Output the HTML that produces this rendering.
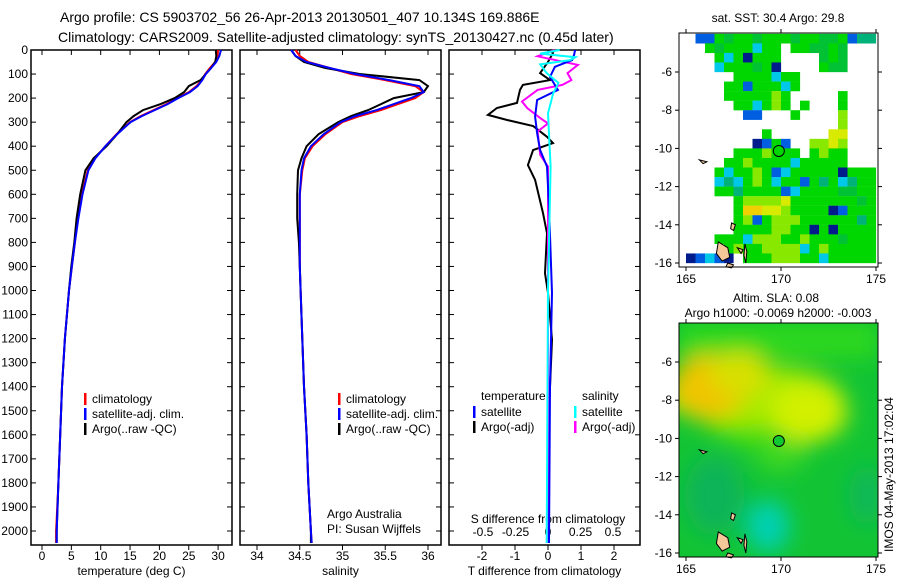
<!DOCTYPE html>
<html><head><meta charset="utf-8"><style>
body{margin:0;background:#fff;}
svg text{font-family:"Liberation Sans",sans-serif;fill:#000;}
</style></head><body>
<svg id="fig" width="900" height="580" viewBox="0 0 900 580" xmlns="http://www.w3.org/2000/svg">
<text x="60" y="22" font-size="14">Argo profile: CS 5903702_56 26-Apr-2013 20130501_407 10.134S 169.886E</text>
<text x="58" y="42" font-size="14">Climatology: CARS2009. Satellite-adjusted climatology: synTS_20130427.nc (0.45d later)</text>
<g id="p1"></g>
<g id="p2"></g>
<g id="p3"></g>
<g id="m1"></g>
<g id="m2"></g>
<text font-size="12" transform="translate(893,552) rotate(-90)">IMOS 04-May-2013 17:02:04</text>
</svg>
<script>
// ---- data ----
const depths=[0,25,50,75,100,125,150,175,200,225,250,275,300,350,400,450,500,600,700,800,900,1000,1200,1400,1600,1800,2000,2050];
const tempClim=[30.0,29.9,29.5,28.6,27.8,27.2,26.3,25.0,23.0,21.2,19.0,16.8,15.0,12.7,10.8,9.0,7.8,6.8,6.1,5.6,5.1,4.6,3.9,3.4,3.1,2.8,2.4,2.4];
const tempSat=[30.5,30.2,29.7,28.8,27.9,27.3,26.5,25.2,23.2,21.4,19.2,17.0,15.1,12.8,10.8,9.1,7.9,6.9,6.2,5.6,5.1,4.6,3.9,3.4,3.1,2.8,2.5,2.5];
const tempArgo=[29.6,29.7,29.5,28.8,27.9,27.0,25.0,24.2,22.6,20.2,17.2,15.6,14.4,12.8,11.0,8.8,7.4,6.5,5.9,5.5,5.0,4.6,3.9,3.4,3.1,2.8,2.5,2.5];
const salClim=[34.45,34.5,34.6,34.85,35.1,35.5,35.85,35.95,35.85,35.65,35.45,35.2,35.0,34.8,34.65,34.56,34.53,34.5,34.5,34.5,34.5,34.51,34.53,34.55,34.58,34.6,34.63,34.64];
const salSat=[34.4,34.45,34.58,34.85,35.15,35.55,35.9,35.95,35.8,35.6,35.4,35.15,34.98,34.78,34.63,34.55,34.52,34.5,34.5,34.5,34.5,34.51,34.53,34.55,34.58,34.6,34.63,34.64];
const salArgo=[34.4,34.45,34.55,34.8,35.2,35.9,36.0,35.95,35.6,35.45,35.3,35.1,34.95,34.72,34.58,34.52,34.48,34.47,34.47,34.49,34.5,34.51,34.53,34.55,34.58,34.6,34.63,34.63];
const dtArgoDepth=[0,12,50,96,125,145,166,220,241,270,291,316,361,387,416,478,540,678,762,928,1010,1205,1500,2050];
const dtArgo=[0.06,0.15,0,-0.24,0.06,-0.76,-0.85,-0.94,-1.55,-1.82,-1.24,-0.45,-0.03,0.15,-0.45,-0.61,-0.39,-0.15,-0.03,-0.09,0,0.12,0.03,0];
const dtSatDepth=[0,20,42,70,112,166,208,277,345,416,485,652,1010,1400,2050];
const dtSat=[0.82,0.79,0.73,0.21,0.06,0.30,-0.33,-0.39,-0.33,-0.24,-0.03,0.03,0.12,0.06,0.03];
const dsSatDepth=[0,15,30,42,60,96,137,180,263,485,1000,2050];
const dsSat=[0.09,-0.06,0.21,0.17,-0.06,-0.01,0.08,0.04,0,0.02,0,-0.01];
const dsArgoDepth=[0,26,62,96,125,145,166,214,241,283,305,339,436,485,690,2050];
const dsArgo=[0.05,-0.08,0.23,0.15,0.18,0.11,-0.08,-0.20,-0.16,-0.06,0,-0.08,-0.06,0,0,0];
const depthTicks=[0,100,200,300,400,500,600,700,800,900,1000,1100,1200,1300,1400,1500,1600,1700,1800,1900,2000];
const tempTicks=[0,5,10,15,20,25,30];
const salTicks=[34,34.5,35,35.5,36];
const dtTicks=[-2,-1,0,1,2];
const dsTickLabels=["-0.5","-0.25","0","0.25","0.5"];
const dsTicks=[-0.5,-0.25,0,0.25,0.5];
const sstGrid=[
".bbgGggGgggGggGGgbtt",
"..gGgggcgg.ggGGgG...",
"...gcgnggg....GgG...",
"...cgggGgn....gGG...",
".....ggggcgg........",
"....ggbgggcg........",
"....gggggyg.....g...",
".....ggcgyg.g...g...",
"......bb...g....y...",
"................y...",
"........g......YY...",
".......nbgb..yyYy...",
".....gggyggg.gygg...",
"....ggyggggcggggg...",
"...gcggygbcgggggnggg",
"...ctcgygcggbgtgctgg",
"...ggtggggbcggggGGgg",
".....gyyyyYgggggggGg",
".....gooYYyggggnbggg",
".....gybgyyyggggggtg",
".....ggggyyggngngggg",
"...gggcyyyggygggGggg",
"....gyggyyyycgyggggg",
"nbcbn.gggyyyggcggggg"];
const mapLonTicks=[165,170,175];
const mapLatTicks=[-6,-8,-10,-12,-14,-16];
const argoLon=169.886, argoLat=-10.134;

// ---- helpers ----
const NS="http://www.w3.org/2000/svg";
function mk(parent,tag,attrs){const e=document.createElementNS(NS,tag);for(const k in attrs)e.setAttribute(k,attrs[k]);parent.appendChild(e);return e;}
const yD=d=>50+d*0.2405;
const BOT=545;

function panel(g,x0,x1,xs,ticks,labels,xlabel,leftLabels){
  const fr=mk(g,'rect',{x:x0,y:50,width:x1-x0,height:BOT-50,fill:'none',stroke:'#000','stroke-width':1.5});
  
  depthTicks.forEach(d=>{
    mk(g,'line',{x1:x0,x2:x0+5,y1:yD(d),y2:yD(d),stroke:'#000'});
    mk(g,'line',{x1:x1-5,x2:x1,y1:yD(d),y2:yD(d),stroke:'#000'});
    if(leftLabels){const t=mk(g,'text',{x:x0-3,y:yD(d)+4,'font-size':12,'text-anchor':'end'});t.textContent=d;
      }
  });
  ticks.forEach((v,i)=>{
    mk(g,'line',{x1:xs(v),x2:xs(v),y1:BOT,y2:BOT+5,stroke:'#000'});
    mk(g,'line',{x1:xs(v),x2:xs(v),y1:50,y2:55,stroke:'#000'});
    const t=mk(g,'text',{x:xs(v),y:BOT+15,'font-size':12,'text-anchor':'middle'});t.textContent=labels[i];
    
  });
  const xl=mk(g,'text',{x:(x0+x1)/2,y:575,'font-size':12,'text-anchor':'middle'});xl.textContent=xlabel;
  
}
function line(g,xs,vals,ds,color,name,w){
  const pts=vals.map((v,i)=>xs(v).toFixed(1)+','+yD(ds[i]).toFixed(1)).join(' ');
  const p=mk(g,'polyline',{points:pts,fill:'none',stroke:color,'stroke-width':w||2});
  
}
function legend(g,x,y,items){
  items.forEach((it,i)=>{
    mk(g,'rect',{x:x,y:y+i*15-10,width:2.5,height:12,fill:it[0]});
    const t=mk(g,'text',{x:x+8,y:y+i*15,'font-size':12});t.textContent=it[1];
    
  });
}
// panel 1
const p1=document.getElementById('p1');
const xT=v=>42+v*5.87;
panel(p1,31,232,xT,tempTicks,tempTicks,'temperature (deg C)',true);
line(p1,xT,tempClim,depths,'#ff0000','climatology-temp-line');
line(p1,xT,tempArgo,depths,'#000000','argo-temp-line');
line(p1,xT,tempSat,depths,'#0000ff','satellite-temp-line');
legend(p1,84,403,[['#f00','climatology'],['#00f','satellite-adj. clim.'],['#000','Argo(..raw -QC)']]);
// panel 2
const p2=document.getElementById('p2');
const xS=v=>257+(v-34)*85.5;
panel(p2,240,441,xS,salTicks,['34','34.5','35','35.5','36'],'salinity',false);
line(p2,xS,salClim,depths,'#ff0000','climatology-sal-line');
line(p2,xS,salArgo,depths,'#000000','argo-sal-line');
line(p2,xS,salSat,depths,'#0000ff','satellite-sal-line');
legend(p2,338,403,[['#f00','climatology'],['#00f','satellite-adj. clim.'],['#000','Argo(..raw -QC)']]);
const a1=mk(p2,'text',{x:327,y:518,'font-size':12});a1.textContent='Argo Australia';

const a2=mk(p2,'text',{x:327,y:533,'font-size':12});a2.textContent='PI: Susan Wijffels';

// panel 3
const p3=document.getElementById('p3');
const xDT=v=>548+v*33;
const xDS=v=>548+v*130;
panel(p3,449,640,xDT,dtTicks,dtTicks,'T difference from climatology',false);
dsTicks.forEach((v,i)=>{const t=mk(p3,'text',{x:xDS(v),y:536,'font-size':12,'text-anchor':'middle'});t.textContent=dsTickLabels[i];
  });
const st=mk(p3,'text',{x:548,y:523,'font-size':12,'text-anchor':'middle'});st.textContent='S difference from climatology';

line(p3,xDT,dtArgo,dtArgoDepth,'#000000','argo-temp-diff-line');
line(p3,xDS,dsArgo,dsArgoDepth,'#ff00ff','argo-sal-diff-line');
line(p3,xDT,dtSat,dtSatDepth,'#0000ff','satellite-temp-diff-line');
line(p3,xDS,dsSat,dsSatDepth,'#00ffff','satellite-sal-diff-line');
const lt=mk(p3,'text',{x:481,y:400,'font-size':12});lt.textContent='temperature';

const ls=mk(p3,'text',{x:582,y:400,'font-size':12});ls.textContent='salinity';

legend(p3,473,416,[['#00f','satellite'],['#000','Argo(-adj)']]);
legend(p3,574,416,[['#0ff','satellite'],['#f0f','Argo(-adj)']]);

function mapAxes(g,y0,y1,lx,ly){
  const fr=mk(g,'rect',{x:679,y:y0,width:199,height:y1-y0,fill:'none',stroke:'#000','stroke-width':1});
  
  mapLonTicks.forEach(v=>{
    mk(g,'line',{x1:lx(v),x2:lx(v),y1:y1,y2:y1+4,stroke:'#000'});
    mk(g,'line',{x1:lx(v),x2:lx(v),y1:y0-4,y2:y0,stroke:'#000'});
    const t=mk(g,'text',{x:lx(v),y:y1+16,'font-size':12,'text-anchor':'middle'});t.textContent=v;
    
  });
  mapLatTicks.forEach(v=>{
    mk(g,'line',{x1:675,x2:679,y1:ly(v),y2:ly(v),stroke:'#000'});
    mk(g,'line',{x1:878,x2:882,y1:ly(v),y2:ly(v),stroke:'#000'});
    const t=mk(g,'text',{x:672,y:ly(v)+4,'font-size':12,'text-anchor':'end'});t.textContent=v;
    
  });
}
function land(g,lx,ly){
  const shapes=[[[166.7,-14.9],[167.2,-15.2],[167.3,-15.7],[166.9,-15.9],[166.6,-15.5]],
    [[167.2,-16.0],[167.5,-16.1],[167.4,-16.25],[167.1,-16.2]],
    [[167.7,-15.2],[168.0,-15.3],[167.9,-15.5]],
    [[168.1,-15.0],[168.2,-15.4],[168.15,-16.0],[168.05,-15.6]],
    [[167.4,-13.9],[167.6,-14.0],[167.5,-14.3],[167.35,-14.2]],
    [[165.7,-10.6],[166.1,-10.7],[165.9,-10.8]]];
  shapes.forEach(s=>{const p=mk(g,'polygon',{points:s.map(q=>lx(q[0])+','+ly(q[1])).join(' '),fill:'#f5c89a',stroke:'#000','stroke-width':1});
    });
}
function marker(g,lx,ly,fill){
  const c=mk(g,'circle',{cx:lx(argoLon),cy:ly(argoLat),r:5.5,fill:fill,stroke:'#000','stroke-width':1});
  
}
const col={g:'#00d600',G:'#00c234',t:'#00b27a',y:'#88e800',Y:'#d8ea00',o:'#f0d000',b:'#005ee0',n:'#001c8c',c:'#00c8e8'};
// map 1
const m1=document.getElementById('m1');
const lx=v=>686+(v-165)*19;
const ly1=v=>263-(v+16)*19.1;
const t1=mk(m1,'text',{x:778,y:22,'font-size':12,'text-anchor':'middle'});t1.textContent='sat. SST: 30.4 Argo: 29.8';

sstGrid.forEach((row,r)=>{
  for(let c=0;c<20;c++){const ch=row[c];if(!ch||ch==='.')continue;
    const cell=mk(m1,'rect',{x:lx(165+c*0.5),y:ly1(-4-r*0.5),width:9.6,height:9.7,fill:col[ch]});
    }
});
land(m1,lx,ly1);
marker(m1,lx,ly1,'#00d600');
mapAxes(m1,33,267,lx,ly1);
// map 2
const m2=document.getElementById('m2');
const ly2=v=>553-(v+16)*19.1;
const t2=mk(m2,'text',{x:776,y:302,'font-size':12,'text-anchor':'middle'});t2.textContent='Altim. SLA: 0.08';

const t3=mk(m2,'text',{x:778,y:317,'font-size':12,'text-anchor':'middle'});t3.textContent='Argo h1000: -0.0069 h2000: -0.003';

const defs=mk(m2,'defs',{});
const f=mk(defs,'filter',{id:'blur',x:'-50%',y:'-50%',width:'200%',height:'200%'});
mk(f,'feGaussianBlur',{stdDeviation:11});
const cp=mk(defs,'clipPath',{id:'clip2'});mk(cp,'rect',{x:679,y:323,width:199,height:234});
const bg=mk(m2,'g',{'clip-path':'url(#clip2)'});
mk(bg,'rect',{x:679,y:323,width:199,height:234,fill:'#12c434'});
const blobs=mk(bg,'g',{filter:'url(#blur)'});
mk(blobs,'rect',{x:679,y:323,width:199,height:35,fill:'#2ed81a'});
mk(blobs,'ellipse',{cx:lx(169.5),cy:ly2(-8.5),rx:70,ry:40,fill:'#44dc10'});
mk(blobs,'ellipse',{cx:lx(168.5),cy:ly2(-7.8),rx:90,ry:30,fill:'#a8ea00'});
mk(blobs,'ellipse',{cx:lx(171.5),cy:ly2(-8.6),rx:38,ry:30,fill:'#d2f000'});
mk(blobs,'ellipse',{cx:lx(166.2),cy:ly2(-7.3),rx:38,ry:32,fill:'#f0c400'});
mk(blobs,'ellipse',{cx:lx(167.8),cy:ly2(-6.6),rx:30,ry:22,fill:'#d8e000'});
mk(blobs,'ellipse',{cx:lx(170),cy:ly2(-10.8),rx:25,ry:18,fill:'#40d820'});
mk(blobs,'ellipse',{cx:lx(169.3),cy:ly2(-14.6),rx:22,ry:26,fill:'#00d0b4'});
mk(blobs,'ellipse',{cx:lx(166.5),cy:ly2(-13),rx:30,ry:40,fill:'#10b458'});
mk(blobs,'ellipse',{cx:lx(174.5),cy:ly2(-13),rx:18,ry:30,fill:'#10b858'});
land(m2,lx,ly2);
marker(m2,lx,ly2,'#10c830');
mapAxes(m2,323,557,lx,ly2);
</script>
</body></html>
